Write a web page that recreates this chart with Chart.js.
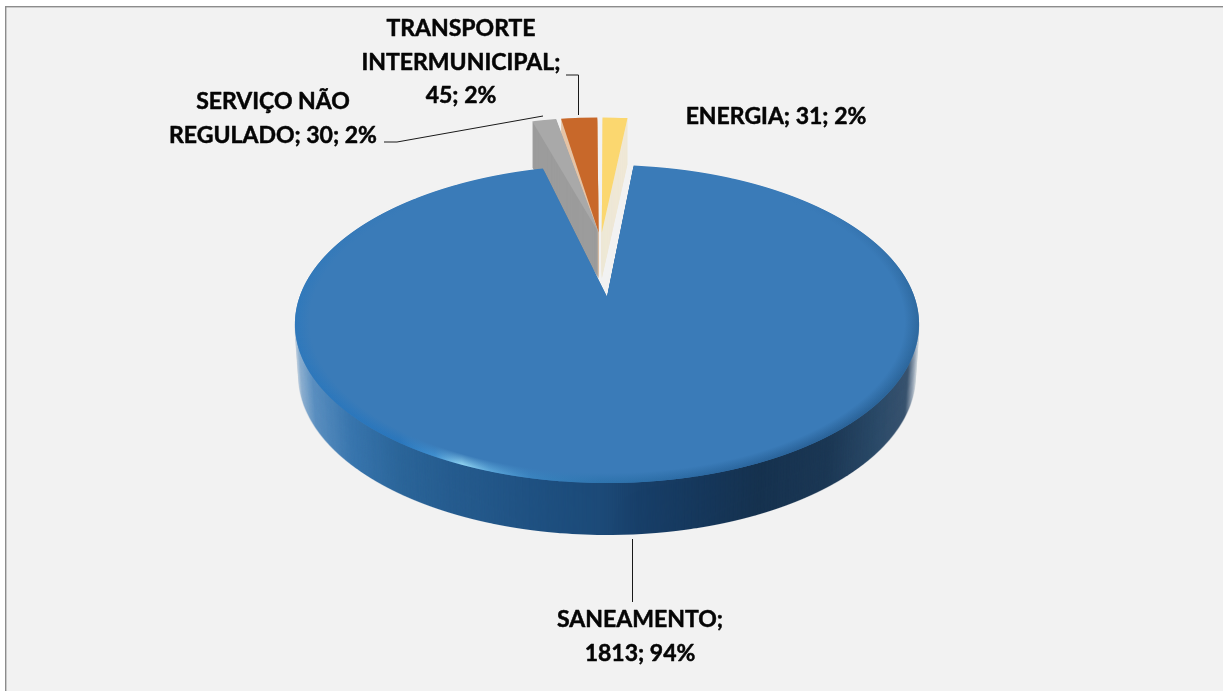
<!DOCTYPE html>
<html><head><meta charset="utf-8">
<style>html,body{margin:0;padding:0;background:#f2f2f2}canvas{display:block}</style>
<script src="https://cdn.jsdelivr.net/npm/chart.js@4"></script>
</head><body>
<canvas id="c" width="1223" height="691"></canvas>
<script>
const categories = ['ENERGIA', 'SANEAMENTO', 'SERVIÇO NÃO REGULADO', 'TRANSPORTE INTERMUNICIPAL'];
const values = [31, 1813, 30, 45];
const faceColors = ['#FBD76F', '#3A7BB8', '#A9A9A9', '#C8682A'];
const wallColors = ['#EFE8D6', '#1E4F7F', '#9C9C9C', '#E5C4A6'];
const labelLineWords = [[3], [1, 2], [2, 3], [1, 1, 2]];
const labelAnchors = [[776, 117], [640, 620], [273, 102], [461, 29]];
const labelPitch = 33.5;
const explodeX = [-5.6, 0, -9, -9];
const explodeY = [-138, 0, -138, -138];
const sliceTilt = [0, 0, -0.03, -0.01];
const depths = [46, 52, 46, 46];
const drawOrder = [0, 3, 2, 1];
const leaders = [
  [[632.5, 539], [632.5, 602]],
  [[566, 75], [578.5, 75], [578.5, 115]],
  [[384, 142], [397, 142], [543, 116]]
];

/* perspective of the pie plane */
const R = 307.5, Xc = 607, Y0 = 297, persp = 0.17 / R, aY = 154.4 / R;
const invY = v => v / (aY + persp * v);

function warp(ctx, el, ox, oy, tilt) {
  const q = el.outerRadius / R, cx = el.x, cy = el.y;
  for (let Y = 100; Y < 492; Y++) {
    const y0 = invY(Y - Y0), y1 = invY(Y + 1 - Y0), dy = y1 - y0;
    const w = 1 - persp * (y0 + y1) / 2;
    ctx.save();
    ctx.beginPath(); ctx.rect(0, Y, 1223, 1); ctx.clip();
    ctx.setTransform(1 / (q * w), 0, 0, 1 / (q * dy),
      Xc + ox / w - cx / (q * w), Y + (oy - y0) / dy - cy / (q * dy));
    if (tilt) { ctx.translate(cx, cy); ctx.rotate(tilt); ctx.translate(-cx, -cy); }
    el.draw(ctx);
    ctx.restore();
  }
}
function withFill(el, fill, fn) {
  const saved = el.options;
  el.options = Object.assign({}, saved, { backgroundColor: fill });
  fn();
  el.options = saved;
}
function layer(el, ox, oy, tilt, paint) {
  const off = document.createElement('canvas');
  off.width = 1223; off.height = 691;
  const o = off.getContext('2d');
  withFill(el, '#000', () => warp(o, el, ox, oy, tilt));
  paint(o);
  return off;
}
function xGradient(o, stops) {
  const g = o.createLinearGradient(295, 0, 919, 0);
  stops.forEach(s => g.addColorStop((s[0] - 295) / 624, s[1]));
  return g;
}
const mainWallStops = [[295,'#c9d6e2'],[299,'#8fb1d1'],[313,'#5b8fc0'],[350,'#3976ae'],[400,'#2b6599'],[450,'#265c8f'],
  [550,'#1e4f7f'],[600,'#1c4a78'],[640,'#183f69'],[700,'#16385c'],[760,'#16324f'],[830,'#1c3855'],[880,'#2c4b69'],
  [908,'#3a5470'],[914,'#8c9cad'],[919,'#d5dbe1']];
const rimStops = [[295,'#2d78bc'],[400,'#2976bc'],[435,'#4090d0'],[462,'#8fd2f0'],[490,'#5ca6d8'],[530,'#3a84c0'],
  [600,'#2e74ae'],[700,'#2c6aa3'],[800,'#2a639a'],[919,'#2b6498']];

const pie3d = {
  id: 'pie3d',
  beforeDraw(chart) {
    const c = chart.ctx;
    c.save();
    c.fillStyle = '#ffffff'; c.fillRect(0, 0, 1223, 691);
    c.fillStyle = '#f2f2f2'; c.fillRect(6, 7, 1217, 684);
    c.fillStyle = '#8c8c8c'; c.fillRect(5, 6, 1218, 1.4); c.fillRect(5, 6, 1.4, 685);
    c.restore();
  },
  beforeDatasetsDraw(chart) {
    const c = chart.ctx, arcs = chart.getDatasetMeta(0).data;
    drawOrder.forEach(i => {
      const el = arcs[i], ox = explodeX[i], oy = explodeY[i], tilt = sliceTilt[i], isMain = i === 1;
      const wall = layer(el, ox, oy, tilt, o => {
        o.globalCompositeOperation = 'source-in';
        o.fillStyle = isMain ? xGradient(o, mainWallStops) : wallColors[i];
        o.fillRect(0, 0, 1223, 691);
      });
      for (let d = depths[i]; d >= 1; d--) {
        const k = isMain ? 1 - 0.012 * d / depths[i] : 1;
        c.drawImage(wall, Xc - Xc * k, d, 1223 * k, 691);
      }
      warp(c, el, ox, oy, tilt);
      if (!isMain) return;
      const rim = layer(el, ox, oy, tilt, o => {
        o.globalCompositeOperation = 'source-in';
        o.fillStyle = xGradient(o, rimStops);
        o.fillRect(0, 0, 1223, 691);
        o.globalCompositeOperation = 'destination-in';
        const v = o.createLinearGradient(0, 200, 0, 420);
        v.addColorStop(0, 'rgba(0,0,0,0)');
        v.addColorStop(0.45, 'rgba(0,0,0,0.7)');
        v.addColorStop(1, 'rgba(0,0,0,1)');
        o.fillStyle = v;
        o.fillRect(0, 0, 1223, 691);
      });
      c.drawImage(rim, 0, 0);
      const g = c.createRadialGradient(el.x, el.y, 0, el.x, el.y, el.outerRadius);
      g.addColorStop(0, faceColors[1]);
      g.addColorStop(0.955, faceColors[1]);
      g.addColorStop(0.998, 'rgba(58,123,184,0)');
      withFill(el, g, () => warp(c, el, ox, oy, tilt));
    });
    return false;
  },
  afterDraw(chart) {
    const c = chart.ctx;
    const total = values.reduce((a, b) => a + b, 0);
    c.save();
    c.strokeStyle = '#1a1a1a'; c.lineWidth = 1;
    leaders.forEach(l => {
      c.beginPath();
      l.forEach((p, i) => i ? c.lineTo(p[0], p[1]) : c.moveTo(p[0], p[1]));
      c.stroke();
    });
    c.fillStyle = '#050505';
    c.strokeStyle = '#050505'; c.lineWidth = 0.5; c.lineJoin = 'round';
    c.font = 'bold 23px Lato';
    c.textAlign = 'center'; c.textBaseline = 'middle';
    categories.forEach((cat, i) => {
      const words = `${cat}; ${values[i]}; ${Math.round(values[i] / total * 100)}%`.split(' ');
      let pos = 0;
      labelLineWords[i].forEach((n, j) => {
        const t = words.slice(pos, pos + n).join(' ');
        const y = labelAnchors[i][1] + j * labelPitch;
        c.fillText(t, labelAnchors[i][0], y);
        c.strokeText(t, labelAnchors[i][0], y);
        pos += n;
      });
    });
    c.restore();
  }
};

new Chart(document.getElementById('c'), {
  type: 'pie',
  data: { labels: categories, datasets: [{ data: values, backgroundColor: faceColors, borderWidth: 0 }] },
  options: {
    responsive: false, animation: false, rotation: 0,
    layout: { padding: 10 },
    plugins: { legend: { display: false }, tooltip: { enabled: false } }
  },
  plugins: [pie3d]
});
</script>
</body></html>
